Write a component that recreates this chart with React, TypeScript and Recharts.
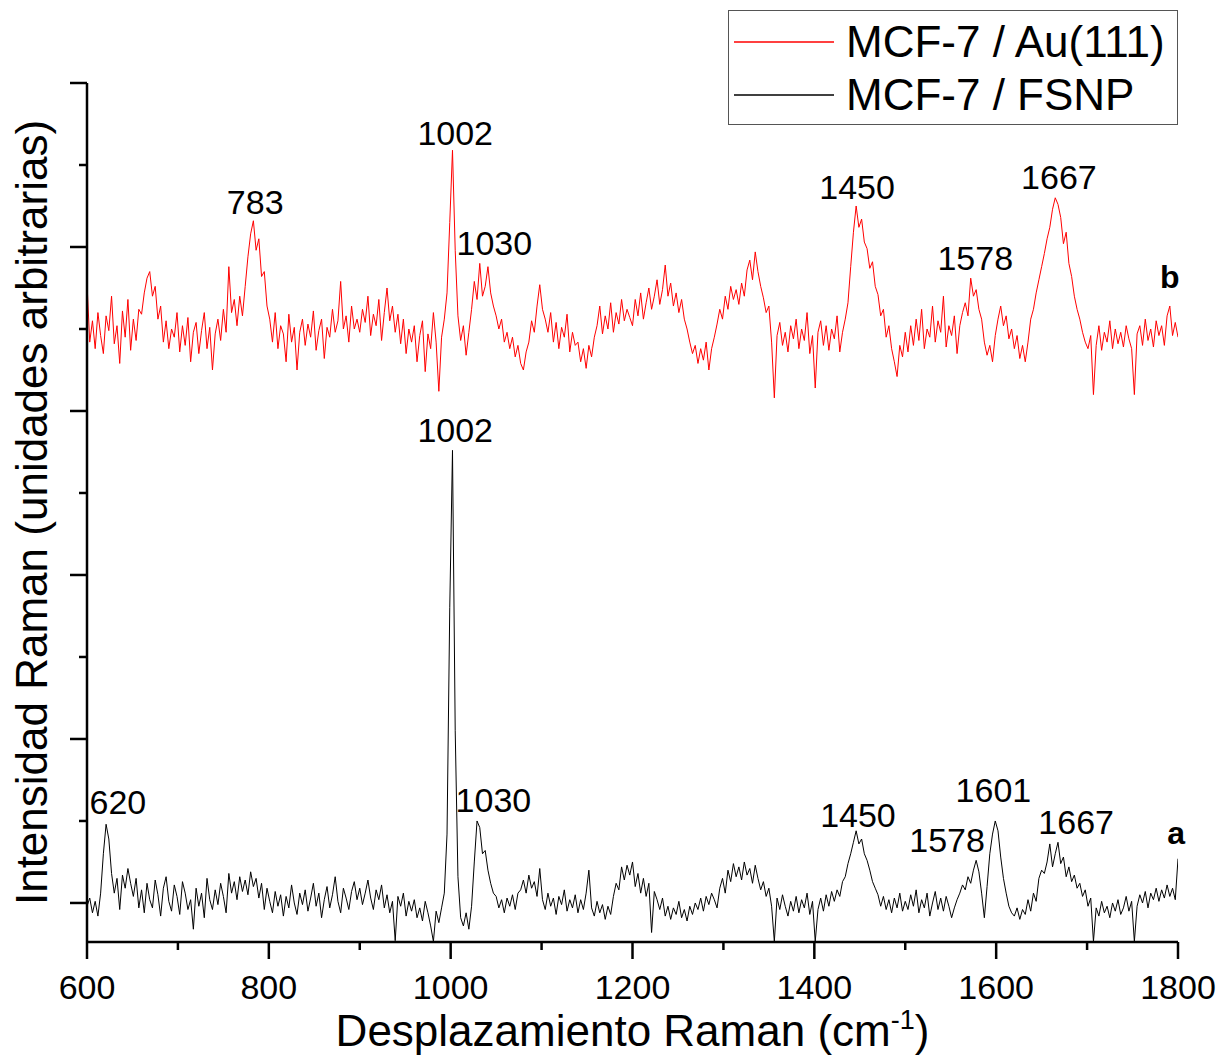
import React from 'react';
import { LineChart, Line, XAxis, YAxis, Legend, ReferenceDot } from 'recharts';

const FONT = '"Liberation Sans", Arial, sans-serif';

// spectra sampled every 3 cm-1 from 600 to 1800
const START_CM = 600;
const STEP_CM = 3;

// curve b: MCF-7 / Au(111) (offset upwards)
const AU111_VALUES = [
  3780, 3420, 3550, 3380, 3600, 3460, 3350, 3580, 3490, 3700, 3410, 3520, 3290, 3610, 3450, 3680, 3370, 3560, 3430, 3620,
  3590, 3720, 3810, 3850, 3700, 3760, 3560, 3640, 3420, 3550, 3380, 3500, 3450, 3600, 3360, 3520, 3400, 3570, 3300, 3480,
  3540, 3350, 3490, 3600, 3380, 3510, 3250, 3470, 3560, 3430, 3620, 3480, 3880, 3600, 3680, 3520, 3700, 3580, 3760, 3940,
  4080, 4160, 3980, 4050, 3820, 3850, 3640, 3560, 3420, 3600, 3380, 3520, 3470, 3300, 3590, 3420, 3510, 3250, 3480, 3560,
  3400, 3530, 3450, 3610, 3370, 3490, 3560, 3320, 3510, 3450, 3620, 3480, 3550, 3790, 3500, 3580, 3420, 3640, 3500, 3560,
  3480, 3620, 3540, 3700, 3460, 3590, 3520, 3680, 3430, 3600, 3750, 3550, 3640, 3480, 3590, 3410, 3560, 3350, 3500, 3420,
  3520, 3300, 3460, 3550, 3240, 3470, 3380, 3600, 3420, 3120, 3450, 3560, 3720, 4150, 4590, 3980, 3580, 3430, 3520, 3340,
  3480, 3620, 3790, 3680, 3900, 3700, 3760, 3880, 3720, 3640, 3580, 3500, 3560, 3420, 3480, 3380, 3450, 3330, 3400, 3290,
  3250, 3360, 3420, 3550, 3480, 3640, 3770, 3620, 3560, 3480, 3600, 3420, 3540, 3380, 3510, 3450, 3590, 3360, 3480, 3400,
  3420, 3300, 3380, 3260, 3400, 3330, 3450, 3520, 3640, 3470, 3580, 3500, 3660, 3480, 3600, 3530, 3680, 3550, 3620, 3570,
  3520, 3680, 3580, 3720, 3560, 3660, 3750, 3620, 3700, 3800, 3650, 3740, 3890, 3700, 3780, 3640, 3720, 3600, 3680, 3560,
  3500, 3420, 3350, 3400, 3290, 3380, 3310, 3420, 3250, 3380, 3450, 3530, 3620, 3560, 3700, 3620, 3760, 3680, 3740, 3650,
  3780, 3700, 3860, 3920, 3800, 3970, 3850, 3760, 3690, 3600, 3640, 3420, 3080, 3460, 3540, 3400, 3480, 3360, 3520, 3440,
  3560, 3380, 3500, 3430, 3600, 3350, 3460, 3140, 3480, 3550, 3400, 3520, 3370, 3500, 3440, 3580, 3360, 3480, 3560, 3660,
  3880, 4090, 4250, 4120, 4170, 4030, 3990, 3870, 3910, 3760, 3710, 3580, 3620, 3450, 3520, 3380, 3300, 3210, 3400, 3330,
  3480, 3360, 3520, 3400, 3560, 3430, 3620, 3380, 3500, 3450, 3640, 3420, 3550, 3480, 3700, 3390, 3520, 3460, 3580, 3350,
  3520, 3600, 3660, 3580, 3810, 3700, 3740, 3620, 3560, 3420, 3340, 3400, 3300, 3460, 3560, 3640, 3520, 3580, 3440, 3500,
  3380, 3460, 3320, 3400, 3300, 3420, 3560, 3620, 3720, 3800, 3880, 3960, 4050, 4120, 4230, 4300, 4260, 4180, 4020, 4090,
  3900, 3820, 3700, 3620, 3560, 3480, 3420, 3380, 3460, 3100, 3400, 3520, 3370, 3480, 3420, 3550, 3380, 3500, 3410, 3480,
  3390, 3520, 3440, 3380, 3100, 3470, 3520, 3400, 3560, 3430, 3500, 3390, 3550, 3460, 3520, 3400, 3580, 3640, 3460, 3540,
  3450,
];

// curve a: MCF-7 / FSNP
const FSNP_VALUES = [
  -20, 30, -60, 10, -80, 60, 300, 480, 390, 180, 60, 150, -40, 170, 90, 210, 120, 40, 150, -30,
  80, -60, 120, 20, -30, 140, 50, -80, 90, 160, 10, -50, 110, 40, -70, 130, 60, -40, 20, -160,
  90, -20, 60, -90, 150, 20, -40, 80, -10, 120, 40, -60, 180, 60, 130, 20, 160, 70, 140, 50,
  190, 100, 150, 30, 120, -40, 90, 10, -60, 70, -20, 50, -80, 40, -30, 110, 0, -70, 60, -10,
  80, -50, 30, 120, -20, 60, -90, 20, 100, -30, 50, 160, 10, -60, 90, 30, -40, 70, 130, 20,
  90, -10, 60, 140, 30, -40, 80, 20, 110, -30, 50, -60, 10, -230, 40, -20, 60, -80, 10, -50,
  20, -90, -30, -110, 10, -60, -140, -235, -50, -120, -30, 60, 420, 1800, 2760, 1050, 160, -90, -140, -60,
  -160, -20, 250, 500, 460, 300, 320, 200, 120, 60, 40, -30, 20, -60, 30, -20, 50, -40, 60, 80,
  140, 60, 170, 90, 130, 40, 210, 20, -40, 60, -20, 30, -70, 40, -10, 80, -50, 20, -30, 50,
  -60, 20, -40, 60, 200, -30, -80, 10, -60, -10, -100, -20, -70, 40, 120, 80, 220, 140, 230, 170,
  250, 100, 180, 60, 150, 40, 120, -180, 70, 20, -40, 30, -80, -20, -100, -30, -70, 10, -90, -40,
  -110, -20, -70, 0, -40, 30, -50, 40, -10, 60, 20, -30, 90, 150, 60, 200, 130, 240, 160, 220,
  140, 250, 170, 210, 120, 230, 150, 80, 130, 40, 90, -20, -235, 30, -40, 50, -20, -80, 10, -50,
  40, -60, 20, -30, 60, -70, 10, -235, -40, 30, -50, 50, -20, 70, 10, 80, 40, 130, 160, 240,
  300, 370, 440, 360, 390, 300, 260, 200, 130, 90, 50, -20, 40, -40, 20, -60, 30, -30, 60, -50,
  10, -40, 50, -20, 80, -60, 20, -30, 60, -80, 0, 70, -40, 30, -50, 40, -20, -90, -30, 20,
  60, 110, 80, 160, 120, 200, 260, 190, 60, -90, 100, 300, 420, 500, 440, 280, 150, 60, -20, -60,
  -80, -30, -100, -40, -70, 20, -50, 60, 10, 150, 200, 180, 250, 360, 220, 300, 370, 240, 280, 160,
  220, 130, 170, 90, 120, 40, 80, -20, 30, -235, -30, -80, 10, -60, -20, -90, 0, -50, 20, -70,
  -30, 40, -50, 10, -235, -20, 50, 0, 70, -30, 60, 20, 90, 10, 80, 30, 110, 40, 90, 20,
  270,
];

const X_MAJOR_TICKS = [600, 800, 1000, 1200, 1400, 1600, 1800];
const X_ALL_TICKS = [600, 700, 800, 900, 1000, 1100, 1200, 1300, 1400, 1500, 1600, 1700, 1800];
const Y_MAJOR_TICKS = [0, 1000, 2000, 3000, 4000, 5000];
const Y_ALL_TICKS = [0, 500, 1000, 1500, 2000, 2500, 3000, 3500, 4000, 4500, 5000];

// peak labels: [text, wavenumber, intensity]
const PEAKS_B: [string, number, number][] = [
  ['783', 785, 4276],
  ['1002', 1005, 4697],
  ['1030', 1048, 4026],
  ['1450', 1447, 4368],
  ['1578', 1577, 3935],
  ['1667', 1669, 4429],
];
const PEAKS_A: [string, number, number][] = [
  ['620', 634, 616],
  ['1002', 1005, 2885],
  ['1030', 1047, 628],
  ['1450', 1448, 537],
  ['1578', 1546, 384],
  ['1601', 1597, 689],
  ['1667', 1688, 494],
];
const CURVE_TAGS: [string, number, number][] = [
  ['b', 1791, 3819],
  ['a', 1798, 427],
];

const data = AU111_VALUES.map((v, i) => ({
  cm: START_CM + i * STEP_CM,
  au: v,
  fsnp: FSNP_VALUES[i],
}));

const axisStroke = { stroke: '#000', strokeWidth: 2.5 };

const XTick = (props: any) => {
  const { x, y, payload } = props;
  const major = X_MAJOR_TICKS.includes(payload.value);
  return (
    <g>
      <line x1={x} x2={x} y1={y} y2={y + (major ? 17 : 8)} stroke="#000" strokeWidth={2.5} />
      {major && (
        <text x={x} y={y + 57} textAnchor="middle" fontSize={34} fontFamily={FONT} fill="#000">
          {payload.value}
        </text>
      )}
    </g>
  );
};

const YTick = (props: any) => {
  const { x, y, payload } = props;
  const major = Y_MAJOR_TICKS.includes(payload.value);
  return <line x1={x} x2={x - (major ? 17 : 8)} y1={y} y2={y} stroke="#000" strokeWidth={2.5} />;
};

const renderLegend = (props: any) => {
  const { payload } = props;
  return (
    <div
      style={{
        boxSizing: 'border-box',
        width: 450,
        height: 115,
        border: '1.5px solid #555',
        background: '#fff',
        fontFamily: FONT,
        fontSize: 44,
        color: '#000',
        padding: '4px 0 0 5px',
      }}
    >
      {(payload || []).map((item: any) => (
        <div key={item.value} style={{ display: 'flex', alignItems: 'center', height: 53 }}>
          <svg width={100} height={4}>
            <line x1={0} x2={100} y1={2} y2={2} stroke={item.color} strokeWidth={1.5} />
          </svg>
          <span style={{ marginLeft: 12, lineHeight: '44px' }}>{item.value}</span>
        </div>
      ))}
    </div>
  );
};

const YTitle = (props: any) => {
  const { viewBox } = props;
  const cy = viewBox.y + viewBox.height / 2;
  return (
    <text
      x={47}
      y={cy}
      transform={`rotate(-90, 47, ${cy})`}
      textAnchor="middle"
      fontSize={44}
      fontFamily={FONT}
      fill="#000"
    >
      Intensidad Raman (unidades arbitrarias)
    </text>
  );
};

const XTitle = (props: any) => {
  const { viewBox } = props;
  const cx = viewBox.x + viewBox.width / 2;
  return (
    <text x={cx} y={1046} textAnchor="middle" fontSize={44} fontFamily={FONT} fill="#000">
      <tspan>Desplazamiento Raman (cm</tspan>
      <tspan dy={-17} fontSize={27}>-1</tspan>
      <tspan dy={17}>)</tspan>
    </text>
  );
};

const peakDot = (key: string, text: string, x: number, y: number, bold = false) => (
  <ReferenceDot
    key={key}
    x={x}
    y={y}
    r={0}
    fill="none"
    stroke="none"
    ifOverflow="visible"
    label={{
      value: text,
      position: 'center',
      fill: '#000',
      fontSize: bold ? 32 : 34,
      fontWeight: bold ? 'bold' : 'normal',
      fontFamily: FONT,
    }}
  />
);

export default function App() {
  return (
    <div style={{ position: 'absolute', left: 0, top: 0, width: 1220, height: 1057, background: '#fff' }}>
      <LineChart
        width={1220}
        height={1057}
        data={data}
        margin={{ top: 83, right: 42, bottom: 0, left: 0 }}
        style={{ fontFamily: FONT }}
      >
        <XAxis
          dataKey="cm"
          type="number"
          domain={[600, 1800]}
          allowDataOverflow
          ticks={X_ALL_TICKS}
          interval={0}
          height={115}
          tickSize={0}
          tickMargin={0}
          tickLine={false}
          tick={<XTick />}
          axisLine={axisStroke}
          label={<XTitle />}
        />
        <YAxis
          type="number"
          domain={[-238, 5000]}
          allowDataOverflow
          ticks={Y_ALL_TICKS}
          interval={0}
          width={87}
          tickSize={0}
          tickMargin={0}
          tickLine={false}
          tick={<YTick />}
          axisLine={axisStroke}
          label={<YTitle />}
        />
        <Legend
          layout="vertical"
          align="center"
          verticalAlign="middle"
          wrapperStyle={{ position: 'absolute', left: 728, top: 10, width: 450, height: 115 }}
          content={renderLegend}
        />
        <Line
          type="linear"
          dataKey="au"
          name="MCF-7 / Au(111)"
          stroke="#ff0000"
          strokeWidth={1}
          dot={false}
          isAnimationActive={false}
        />
        <Line
          type="linear"
          dataKey="fsnp"
          name="MCF-7 / FSNP"
          stroke="#000"
          strokeWidth={1}
          dot={false}
          isAnimationActive={false}
        />
        {PEAKS_B.map(([t, x, y], i) => peakDot(`b${i}`, t, x, y))}
        {PEAKS_A.map(([t, x, y], i) => peakDot(`a${i}`, t, x, y))}
        {CURVE_TAGS.map(([t, x, y], i) => peakDot(`t${i}`, t, x, y, true))}
      </LineChart>
    </div>
  );
}
